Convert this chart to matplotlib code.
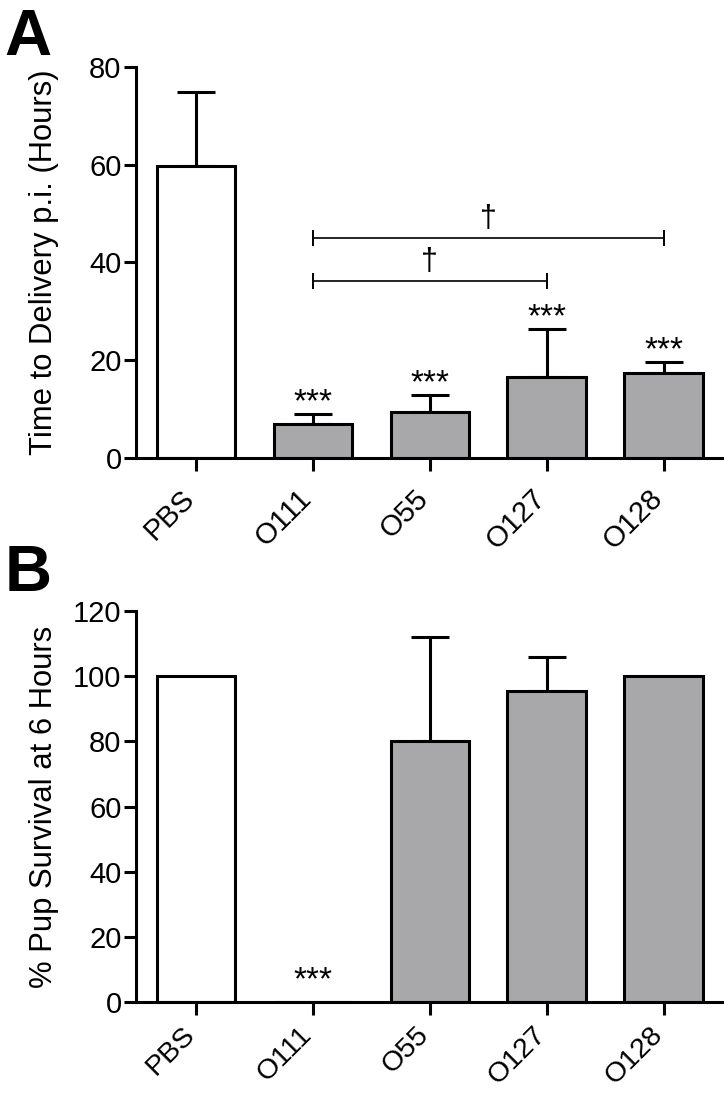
import matplotlib
matplotlib.use("Agg")
import matplotlib.pyplot as plt
import matplotlib.transforms as mtransforms
import numpy as np

plt.rcParams["font.family"] = ["Liberation Sans", "DejaVu Sans"]

groups = ["PBS", "O111", "O55", "O127", "O128"]
bar_colors = ["white", "#a8a8aa", "#a8a8aa", "#a8a8aa", "#a8a8aa"]

# panel A: time to delivery (hours)
delivery_mean = [59.7, 7.0, 9.5, 16.5, 17.4]
delivery_sem = [15.1, 2.0, 3.4, 9.9, 2.2]
delivery_stars = ["", "***", "***", "***", "***"]
# brackets: (from group, to group, height)
brackets = [(1, 3, 36.2), (1, 4, 45.0)]

# panel B: pup survival (%)
survival_mean = [100, 0, 80, 95.5, 100]
survival_sem = [0, 0, 32, 10.3, 0]
survival_stars = ["", "***", "", "", ""]

lw = 2.2
fig = plt.figure(figsize=(7.24, 10.93), dpi=100)
axA = fig.add_axes([0.188, 0.5810, 0.811, 0.3577])
axB = fig.add_axes([0.188, 0.0828, 0.811, 0.3586])


def draw_panel(ax, means, sems, ymax, step, ylabel, xpad, xsize):
    x = np.arange(len(groups))
    sems = np.array(sems)
    m = sems > 0
    ax.errorbar(x[m], np.array(means)[m], yerr=[np.zeros(m.sum()), sems[m]],
                fmt="none", ecolor="black", elinewidth=lw, capsize=14,
                capthick=lw, zorder=1)
    ax.bar(x, means, width=0.67, color=bar_colors, edgecolor="black",
           linewidth=lw, zorder=2)
    ax.set_xlim(-0.51, 4.51)
    ax.set_ylim(0, ymax)
    ax.set_yticks(np.arange(0, ymax + 1, step))
    ax.set_xticks(x)
    ax.set_xticklabels(groups, rotation=45, ha="right", va="baseline",
                       rotation_mode="anchor")
    shift = mtransforms.ScaledTranslation(3 / 100, 0, fig.dpi_scale_trans)
    for lab in ax.get_xticklabels():
        lab.set_transform(lab.get_transform() + shift)
    for s in ["top", "right"]:
        ax.spines[s].set_visible(False)
    for s in ["left", "bottom"]:
        ax.spines[s].set_linewidth(lw)
    ax.tick_params(axis="both", width=lw, length=9, labelsize=21, direction="out")
    ax.tick_params(axis="y", pad=1.5)
    ax.tick_params(axis="x", pad=xpad, labelsize=xsize)
    ax.set_ylabel(ylabel, fontsize=22.3)
    ax.yaxis.set_label_coords(-0.131, 0.5)
    ax.patch.set_visible(False)


draw_panel(axA, delivery_mean, delivery_sem, 80, 20,
           "Time to Delivery p.i. (Hours)", 21, 21)
draw_panel(axB, survival_mean, survival_sem, 120, 20,
           "% Pup Survival at 6 Hours", 15, 20.5)

for i, s in enumerate(delivery_stars):
    if s:
        axA.text(i, delivery_mean[i] + delivery_sem[i] + 0.5, s,
                 ha="center", va="baseline", fontsize=24)
for i, s in enumerate(survival_stars):
    if s:
        axB.text(i, survival_mean[i] + survival_sem[i] + 4.0, s,
                 ha="center", va="baseline", fontsize=24)

for a, b, h in brackets:
    axA.plot([a, b], [h, h], color="black", lw=1.2, marker="|",
             markersize=11, mew=1.4, clip_on=False)
    axA.text((a + b) / 2, h + 2.3, "\u2020", ha="center", va="baseline",
             fontsize=22)

fig.text(0.006, 0.9930, "A", fontsize=47, fontweight="bold", va="top", ha="left")
fig.text(0.006, 0.5020, "B", fontsize=47, fontweight="bold", va="top", ha="left")

fig.savefig("out.png", dpi=100)
